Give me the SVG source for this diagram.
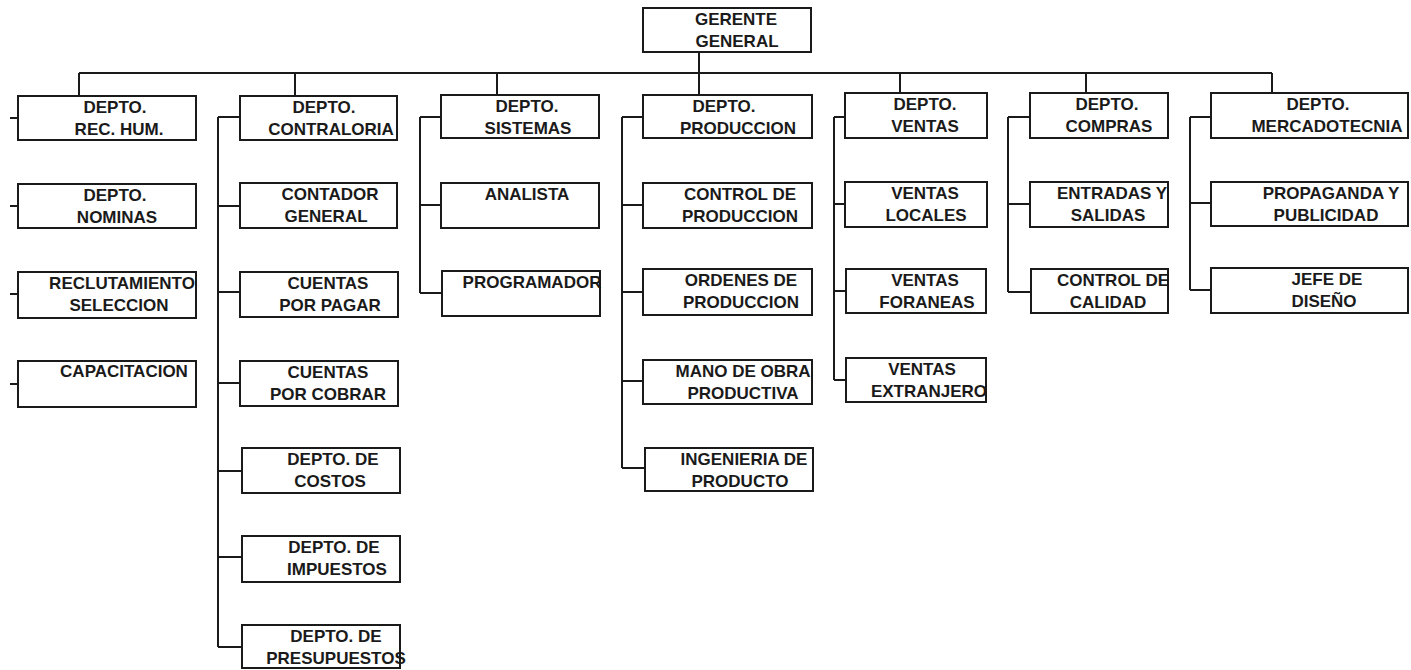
<svg xmlns="http://www.w3.org/2000/svg" width="1411" height="670" viewBox="0 0 1411 670">
<style>
.b{fill:#fff;stroke:#1a1a1a;stroke-width:2}
.t{font-family:"Liberation Sans",Arial,sans-serif;font-weight:bold;font-size:17px;fill:#1a1a1a;text-anchor:middle}
.c{fill:none;stroke:#1a1a1a;stroke-width:2}
</style>
<rect width="1411" height="670" fill="#fff"/>
<g id="connectors" class="c">
<path d="M699 52V73M79 73H1272M79 73V96M295 73V96M497 73V95M699 73V95M900 73V93M1086 73V93M1272 73V93"/>
<path d="M10 118H18M10 206H18M10 294H18M10 384H18"/>
<path d="M218 117V647M218 117H240M218 206H240M218 292H240M218 383H240M218 471H242M218 557H242M218 647H242"/>
<path d="M420 117V293M420 117H441M420 205H441M420 293H442"/>
<path d="M622 117V468M622 117H643M622 205H643M622 292H643M622 381H643M622 468H645"/>
<path d="M834 117V380M834 117H845M834 204H845M834 291H846M834 380H846"/>
<path d="M1008 117V292M1008 117H1030M1008 204H1030M1008 292H1031"/>
<path d="M1190 117V290M1190 117H1211M1190 203H1211M1190 290H1211"/>
</g>
<g id="gerente"><rect class="b" x="643" y="8" width="168" height="44"/><text class="t" x="736" y="25">GERENTE</text><text class="t" x="737" y="47">GENERAL</text></g>
<g id="rechum"><rect class="b" x="18" y="96" width="178" height="44"/><text class="t" x="115" y="113">DEPTO.</text><text class="t" x="119" y="135">REC. HUM.</text></g>
<g id="nominas"><rect class="b" x="18" y="184" width="178" height="44"/><text class="t" x="115" y="201">DEPTO.</text><text class="t" x="117" y="223">NOMINAS</text></g>
<g id="reclutamiento"><rect class="b" x="18" y="272" width="178" height="46"/><text class="t" x="122" y="289">RECLUTAMIENTO</text><text class="t" x="119" y="311">SELECCION</text></g>
<g id="capacitacion"><rect class="b" x="18" y="361" width="178" height="46"/><text class="t" x="124" y="377">CAPACITACION</text></g>
<g id="contraloria"><rect class="b" x="240" y="96" width="157" height="44"/><text class="t" x="324" y="113">DEPTO.</text><text class="t" x="331" y="135">CONTRALORIA</text></g>
<g id="contador"><rect class="b" x="240" y="183" width="157" height="45"/><text class="t" x="330" y="200">CONTADOR</text><text class="t" x="326" y="222">GENERAL</text></g>
<g id="cxp"><rect class="b" x="240" y="272" width="158" height="45"/><text class="t" x="328" y="289">CUENTAS</text><text class="t" x="330" y="311">POR PAGAR</text></g>
<g id="cxc"><rect class="b" x="240" y="361" width="158" height="45"/><text class="t" x="328" y="378">CUENTAS</text><text class="t" x="328" y="400">POR COBRAR</text></g>
<g id="costos"><rect class="b" x="242" y="448" width="158" height="45"/><text class="t" x="333" y="465">DEPTO. DE</text><text class="t" x="330" y="487">COSTOS</text></g>
<g id="impuestos"><rect class="b" x="242" y="536" width="158" height="46"/><text class="t" x="334" y="553">DEPTO. DE</text><text class="t" x="337" y="575">IMPUESTOS</text></g>
<g id="presupuestos"><rect class="b" x="242" y="625" width="158" height="43"/><text class="t" x="336" y="642">DEPTO. DE</text><text class="t" x="336" y="664">PRESUPUESTOS</text></g>
<g id="sistemas"><rect class="b" x="441" y="95" width="158" height="43"/><text class="t" x="527" y="112">DEPTO.</text><text class="t" x="528" y="134">SISTEMAS</text></g>
<g id="analista"><rect class="b" x="441" y="183" width="158" height="45"/><text class="t" x="527" y="200">ANALISTA</text></g>
<g id="programador"><rect class="b" x="442" y="271" width="158" height="45"/><text class="t" x="532" y="288">PROGRAMADOR</text></g>
<g id="produccion"><rect class="b" x="643" y="95" width="169" height="43"/><text class="t" x="724" y="112">DEPTO.</text><text class="t" x="738" y="134">PRODUCCION</text></g>
<g id="controlprod"><rect class="b" x="643" y="183" width="169" height="45"/><text class="t" x="740" y="200">CONTROL DE</text><text class="t" x="740" y="222">PRODUCCION</text></g>
<g id="ordenes"><rect class="b" x="643" y="269" width="169" height="46"/><text class="t" x="741" y="286">ORDENES DE</text><text class="t" x="741" y="308">PRODUCCION</text></g>
<g id="manoobra"><rect class="b" x="643" y="360" width="169" height="44"/><text class="t" x="743" y="377">MANO DE OBRA</text><text class="t" x="743" y="399">PRODUCTIVA</text></g>
<g id="ingenieria"><rect class="b" x="645" y="448" width="168" height="43"/><text class="t" x="744" y="465">INGENIERIA DE</text><text class="t" x="740" y="487">PRODUCTO</text></g>
<g id="ventas"><rect class="b" x="845" y="93" width="142" height="45"/><text class="t" x="925" y="110">DEPTO.</text><text class="t" x="925" y="132">VENTAS</text></g>
<g id="locales"><rect class="b" x="845" y="182" width="142" height="45"/><text class="t" x="925" y="199">VENTAS</text><text class="t" x="926" y="221">LOCALES</text></g>
<g id="foraneas"><rect class="b" x="846" y="269" width="140" height="44"/><text class="t" x="925" y="286">VENTAS</text><text class="t" x="927" y="308">FORANEAS</text></g>
<g id="extranjero"><rect class="b" x="846" y="358" width="140" height="44"/><text class="t" x="922" y="375">VENTAS</text><text class="t" x="929" y="397">EXTRANJERO</text></g>
<g id="compras"><rect class="b" x="1030" y="93" width="138" height="45"/><text class="t" x="1107" y="110">DEPTO.</text><text class="t" x="1109" y="132">COMPRAS</text></g>
<g id="entradas"><rect class="b" x="1030" y="182" width="138" height="45"/><text class="t" x="1112" y="199">ENTRADAS Y</text><text class="t" x="1108" y="221">SALIDAS</text></g>
<g id="calidad"><rect class="b" x="1031" y="269" width="137" height="44"/><text class="t" x="1113" y="286">CONTROL DE</text><text class="t" x="1108" y="308">CALIDAD</text></g>
<g id="mercadotecnia"><rect class="b" x="1211" y="93" width="197" height="45"/><text class="t" x="1318" y="110">DEPTO.</text><text class="t" x="1327" y="132">MERCADOTECNIA</text></g>
<g id="propaganda"><rect class="b" x="1211" y="182" width="197" height="44"/><text class="t" x="1331" y="199">PROPAGANDA Y</text><text class="t" x="1326" y="221">PUBLICIDAD</text></g>
<g id="jefe"><rect class="b" x="1211" y="268" width="197" height="45"/><text class="t" x="1327" y="285">JEFE DE</text><text class="t" x="1324" y="307">DISEÑO</text></g>
</svg>
